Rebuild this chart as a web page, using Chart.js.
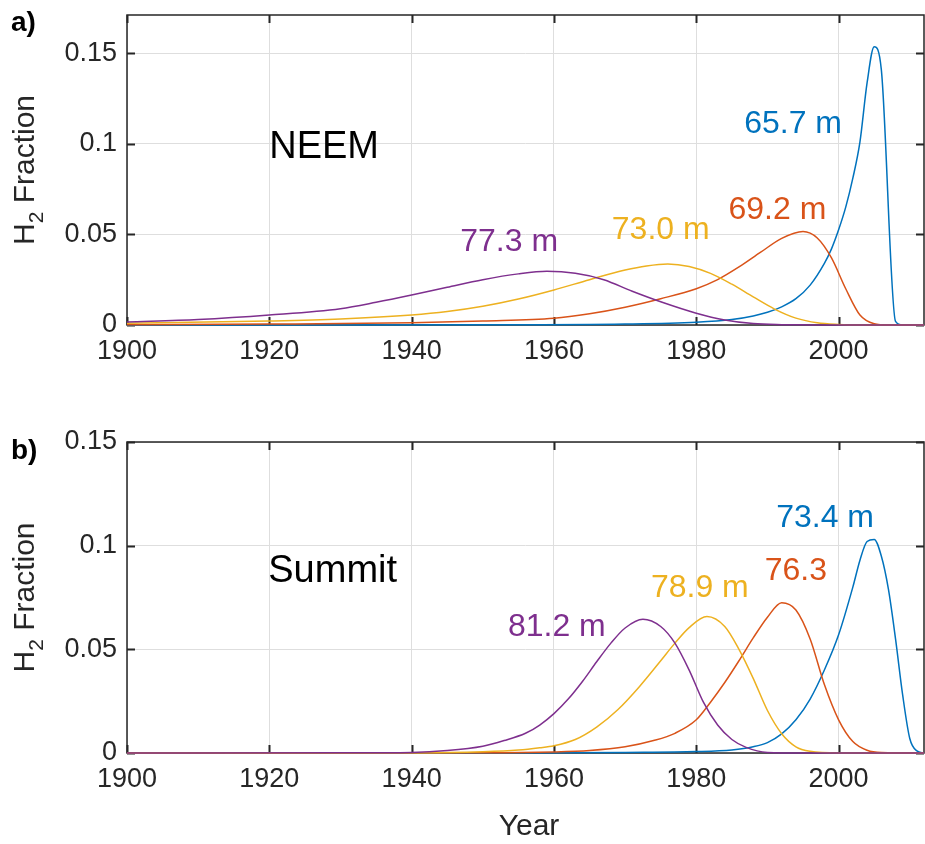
<!DOCTYPE html>
<html>
<head>
<meta charset="utf-8">
<title>H2 fraction age distributions</title>
<script src="https://cdn.jsdelivr.net/npm/chart.js@4.4.1/dist/chart.umd.min.js"></script>
<style>
  html, body { margin: 0; padding: 0; background: #fff; }
  .panel { position: relative; width: 925px; }
  #panelA { height: 400px; }
  #panelB { height: 444px; }
</style>
</head>
<body>
<div class="panel" id="panelA"><canvas id="chartA"></canvas></div>
<div class="panel" id="panelB"><canvas id="chartB"></canvas></div>
<script>
const FONT = "'Liberation Sans', Arial, Helvetica, sans-serif";
const AXIS_COLOR = '#262626';
const COLORS = { blue: '#0072BD', orange: '#D95319', yellow: '#EDB120', purple: '#7E2F8E' };

// NEEM (panel a)
const neemPurpleYears = [1900, 1910, 1920, 1930, 1935, 1940, 1945, 1950, 1955, 1959, 1963, 1967, 1971, 1975, 1980, 1984, 1988, 1992, 1996, 2000, 2012];
const neemPurpleVals  = [0.0017, 0.003, 0.0055, 0.009, 0.0125, 0.0165, 0.0208, 0.025, 0.0282, 0.0296, 0.0285, 0.025, 0.0186, 0.0128, 0.0065, 0.0028, 0.0008, 0.0002, 0.00005, 0, 0];
const neemYellowYears = [1900, 1920, 1930, 1940, 1945, 1950, 1955, 1960, 1965, 1970, 1973, 1976, 1979, 1982, 1985, 1988, 1991, 1994, 1997, 2000, 2003, 2012];
const neemYellowVals  = [0.001, 0.0022, 0.0033, 0.0055, 0.0074, 0.0103, 0.0143, 0.0193, 0.025, 0.0303, 0.0326, 0.0337, 0.0323, 0.0285, 0.0225, 0.0155, 0.0088, 0.0038, 0.0012, 0.0003, 0, 0];
const neemOrangeYears = [1900, 1920, 1940, 1950, 1960, 1965, 1970, 1975, 1980, 1983, 1986, 1989, 1992, 1995, 1997, 1999, 2001, 2003, 2005, 2007, 2012];
const neemOrangeVals  = [0.0002, 0.0005, 0.0012, 0.0022, 0.0037, 0.0062, 0.0098, 0.0145, 0.02, 0.025, 0.032, 0.04, 0.0478, 0.0516, 0.048, 0.037, 0.02, 0.0055, 0.0007, 0, 0];
const neemBlueYears   = [1900, 1950, 1970, 1980, 1985, 1988, 1990, 1992, 1994, 1996, 1998, 1999, 2000, 2001, 2002, 2003, 2004, 2005, 2006, 2008, 2009, 2012];
const neemBlueVals    = [0, 0.0001, 0.0005, 0.0015, 0.003, 0.005, 0.007, 0.01, 0.0145, 0.022, 0.034, 0.042, 0.0525, 0.065, 0.081, 0.101, 0.1335, 0.1535, 0.141, 0.002, 0, 0];
const neemDepths = ['77.3 m', '73.0 m', '69.2 m', '65.7 m'];

// Summit (panel b)
const summitPurpleYears = [1900, 1930, 1940, 1945, 1950, 1953, 1956, 1958, 1960, 1962, 1964, 1966, 1968, 1970, 1972.5, 1975, 1977, 1979, 1981, 1983, 1985, 1987, 1990, 1995, 2012];
const summitPurpleVals  = [0, 0.0001, 0.0003, 0.0012, 0.0033, 0.006, 0.0095, 0.0135, 0.019, 0.026, 0.0345, 0.044, 0.053, 0.0603, 0.0645, 0.061, 0.053, 0.04, 0.0245, 0.0135, 0.0065, 0.0027, 0.0003, 0, 0];
const summitYellowYears = [1900, 1940, 1950, 1955, 1958, 1960, 1963, 1966, 1969, 1972, 1975, 1977, 1979, 1981.5, 1984, 1986, 1988, 1990, 1992, 1994, 1996, 2000, 2012];
const summitYellowVals  = [0, 0.0001, 0.0006, 0.0014, 0.0025, 0.0035, 0.0065, 0.0125, 0.021, 0.032, 0.0445, 0.053, 0.0605, 0.0658, 0.061, 0.05, 0.036, 0.0205, 0.0093, 0.003, 0.0008, 0, 0];
const summitOrangeYears = [1900, 1950, 1960, 1965, 1970, 1974, 1977, 1980, 1982, 1984, 1986, 1988, 1990, 1992, 1994, 1996, 1998, 2000, 2002, 2004, 2006, 2012];
const summitOrangeVals  = [0, 0.0001, 0.0005, 0.0012, 0.003, 0.006, 0.0095, 0.016, 0.0245, 0.034, 0.0445, 0.0555, 0.0655, 0.0725, 0.069, 0.055, 0.033, 0.016, 0.0055, 0.0013, 0.0002, 0];
const summitBlueYears   = [1900, 1960, 1970, 1980, 1985, 1988, 1990, 1992, 1994, 1996, 1998, 2000, 2002, 2003, 2004, 2005, 2006, 2007, 2008, 2009, 2010, 2011, 2012];
const summitBlueVals    = [0, 0.0001, 0.0003, 0.0007, 0.0015, 0.003, 0.005, 0.0092, 0.016, 0.026, 0.04, 0.057, 0.08, 0.093, 0.102, 0.103, 0.095, 0.079, 0.055, 0.028, 0.007, 0.001, 0];
const summitDepths = ['81.2 m', '78.9 m', '76.3', '73.4 m'];

const xTickValues = [1900, 1920, 1940, 1960, 1980, 2000];
const yTickValues = [0, 0.05, 0.1, 0.15];

function toPoints(years, vals) {
    return years.map((yr, i) => ({ x: yr, y: vals[i] }));
}

function makeSeries(color, years, vals) {
    return {
        data: toPoints(years, vals),
        borderColor: color,
        borderWidth: 1.5,
        pointRadius: 0,
        fill: false,
        cubicInterpolationMode: 'monotone',
        clip: false
    };
}

// frame, inward ticks, titles and in-plot notes
const decorPlugin = {
    id: 'decor',
    beforeDatasetsDraw(chart) {
        const { ctx, chartArea: a, scales: { x, y } } = chart;
        ctx.save();
        ctx.strokeStyle = AXIS_COLOR;
        ctx.lineWidth = 1.5;
        ctx.strokeRect(a.left, a.top, a.right - a.left, a.bottom - a.top);
        ctx.beginPath();
        x.ticks.forEach(t => {
            const px = Math.round(x.getPixelForValue(t.value)) + 0.5;
            ctx.moveTo(px, a.bottom); ctx.lineTo(px, a.bottom - 8);
            ctx.moveTo(px, a.top); ctx.lineTo(px, a.top + 8);
        });
        y.ticks.forEach(t => {
            const py = Math.round(y.getPixelForValue(t.value)) + 0.5;
            ctx.moveTo(a.left, py); ctx.lineTo(a.left + 8, py);
            ctx.moveTo(a.right, py); ctx.lineTo(a.right - 8, py);
        });
        ctx.lineWidth = 2;
        ctx.stroke();
        ctx.restore();
    },
    afterDraw(chart) {
        const { ctx, scales: { x, y } } = chart;
        const cfg = chart.options.plugins.decor;
        ctx.save();
        ctx.textAlign = 'center';
        ctx.textBaseline = 'alphabetic';
        cfg.notes.forEach(n => {
            ctx.font = n.size + 'px ' + FONT;
            ctx.fillStyle = n.color;
            ctx.fillText(n.text, x.getPixelForValue(n.x), y.getPixelForValue(n.y) + 0.358 * n.size);
        });

        // panel letter
        ctx.textAlign = 'left';
        ctx.fillStyle = '#000';
        ctx.font = 'bold 28px ' + FONT;
        ctx.fillText(cfg.letter, 11, cfg.letterY);

        // y title with subscript 2
        const cy = (chart.chartArea.top + chart.chartArea.bottom) / 2;
        ctx.translate(34, cy);
        ctx.rotate(-Math.PI / 2);
        ctx.fillStyle = AXIS_COLOR;
        ctx.font = '30px ' + FONT;
        const wH = ctx.measureText('H').width;
        const wRest = ctx.measureText(' Fraction').width;
        ctx.font = '21px ' + FONT;
        const wSub = ctx.measureText('2').width;
        let sx = -(wH + wSub + wRest) / 2;
        ctx.font = '30px ' + FONT;
        ctx.fillText('H', sx, 0);
        ctx.font = '21px ' + FONT;
        ctx.fillText('2', sx + wH, 9);
        ctx.font = '30px ' + FONT;
        ctx.fillText(' Fraction', sx + wH + wSub, 0);
        ctx.restore();

        if (cfg.xTitle) {
            ctx.save();
            ctx.font = '30px ' + FONT;
            ctx.fillStyle = AXIS_COLOR;
            ctx.textAlign = 'center';
            ctx.fillText(cfg.xTitle, 529, cfg.xTitleY);
            ctx.restore();
        }
    }
};

function makePanel(canvasId, series, yMax, padTop, xHeight, decor) {
    new Chart(document.getElementById(canvasId), {
        type: 'line',
        data: { datasets: series },
        plugins: [decorPlugin],
        options: {
            responsive: true,
            maintainAspectRatio: false,
            animation: false,
            devicePixelRatio: 1,
            layout: { padding: { top: padTop, right: 1, left: 0, bottom: 0 } },
            plugins: {
                legend: { display: false },
                tooltip: { enabled: false },
                decor: decor
            },
            scales: {
                x: {
                    type: 'linear',
                    min: 1900,
                    max: 2012,
                    afterFit: s => { s.height = xHeight; s.paddingLeft = 0; s.paddingRight = 0; },
                    afterBuildTicks: s => { s.ticks = xTickValues.map(v => ({ value: v })); },
                    ticks: {
                        color: AXIS_COLOR,
                        font: { family: FONT, size: 27 },
                        padding: 10,
                        maxRotation: 0,
                        callback: v => String(v)
                    },
                    grid: { color: '#dedede', lineWidth: 1, drawTicks: false },
                    border: { display: false }
                },
                y: {
                    min: 0,
                    max: yMax,
                    afterFit: s => { s.width = 127; s.paddingTop = 0; s.paddingBottom = 0; },
                    afterBuildTicks: s => { s.ticks = yTickValues.map(v => ({ value: v })); },
                    ticks: {
                        color: AXIS_COLOR,
                        font: { family: FONT, size: 27 },
                        padding: 10,
                        callback: v => String(Math.round(v * 100) / 100)
                    },
                    grid: { color: '#dedede', lineWidth: 1, drawTicks: false },
                    border: { display: false }
                }
            }
        }
    });
}

makePanel('chartA', [
    makeSeries(COLORS.purple, neemPurpleYears, neemPurpleVals),
    makeSeries(COLORS.yellow, neemYellowYears, neemYellowVals),
    makeSeries(COLORS.orange, neemOrangeYears, neemOrangeVals),
    makeSeries(COLORS.blue, neemBlueYears, neemBlueVals)
], 0.171, 15, 75, {
    letter: 'a)',
    letterY: 31,
    notes: [
        { text: 'NEEM', x: 1927.7, y: 0.0994, color: '#000', size: 38 },
        { text: neemDepths[0], x: 1953.7, y: 0.047, color: COLORS.purple, size: 32 },
        { text: neemDepths[1], x: 1975.0, y: 0.0536, color: COLORS.yellow, size: 32 },
        { text: neemDepths[2], x: 1991.4, y: 0.0649, color: COLORS.orange, size: 32 },
        { text: neemDepths[3], x: 1993.6, y: 0.1123, color: COLORS.blue, size: 32 }
    ]
});

makePanel('chartB', [
    makeSeries(COLORS.purple, summitPurpleYears, summitPurpleVals),
    makeSeries(COLORS.yellow, summitYellowYears, summitYellowVals),
    makeSeries(COLORS.orange, summitOrangeYears, summitOrangeVals),
    makeSeries(COLORS.blue, summitBlueYears, summitBlueVals)
], 0.15, 42, 91, {
    letter: 'b)',
    letterY: 59,
    xTitle: 'Year',
    xTitleY: 435,
    notes: [
        { text: 'Summit', x: 1928.9, y: 0.0892, color: '#000', size: 38 },
        { text: summitDepths[0], x: 1960.4, y: 0.062, color: COLORS.purple, size: 32 },
        { text: summitDepths[1], x: 1980.5, y: 0.0806, color: COLORS.yellow, size: 32 },
        { text: summitDepths[2], x: 1994.0, y: 0.0888, color: COLORS.orange, size: 32 },
        { text: summitDepths[3], x: 1998.1, y: 0.1143, color: COLORS.blue, size: 32 }
    ]
});
</script>
</body>
</html>
